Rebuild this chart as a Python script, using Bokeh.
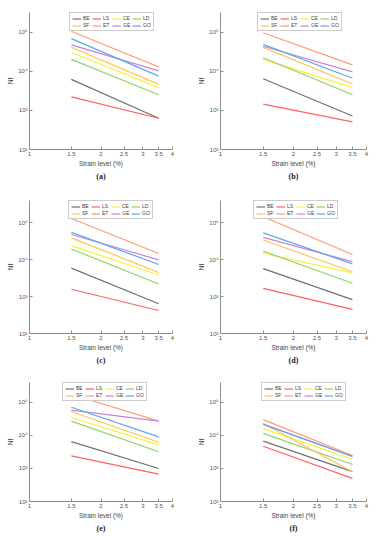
from bokeh.plotting import figure
from bokeh.models import Legend, LegendItem, FixedTicker, CustomJSTickFormatter, Title, Range1d
from bokeh.layouts import column, row
from bokeh.embed import file_html
from bokeh.resources import INLINE

# ---------------- data ----------------
series = ["BE", "LS", "CE", "LD", "SF", "ET", "GE", "GO"]
strain = [1.5, 3.5]
x_ticks = [1, 1.5, 2, 2.5, 3, 3.5, 4]
y_ticks = [100, 1000, 10000, 100000]

# Nf at 1.5 % and 3.5 % strain, series order as above
nf_a_15 = [6200, 2200, 30000, 20000, 41000, 105000, 47000, 68000]
nf_a_35 = [630, 630, 3800, 2500, 4600, 12800, 10200, 7500]

nf_b_15 = [6400, 1440, 20000, 22000, 40500, 96000, 43500, 48500]
nf_b_35 = [720, 510, 3800, 2500, 4700, 14500, 9600, 6600]

nf_c_15 = [5900, 1580, 24000, 19400, 39000, 130000, 48000, 55000]
nf_c_35 = [640, 420, 3850, 2200, 4500, 14700, 9900, 7400]

nf_d_15 = [5700, 1670, 14700, 17000, 34000, 145000, 40000, 53000]
nf_d_35 = [830, 450, 4400, 2300, 4700, 13800, 8800, 7700]

nf_e_15 = [6500, 2400, 35000, 27000, 53000, 176000, 58000, 71000]
nf_e_35 = [1000, 670, 5200, 3200, 6200, 27000, 27000, 9000]

nf_f_15 = [6700, 4700, 16000, 11500, 23000, 30000, 22000, 21500]
nf_f_35 = [800, 500, 1900, 1320, 800, 2460, 2350, 2300]

captions = ["(a)", "(b)", "(c)", "(d)", "(e)", "(f)"]

# ---------------- style ----------------
colors = ["#707070", "#ff6161", "#f7f23a", "#8fd468", "#ffc452", "#ff9a6e", "#c684d8", "#5aaae8"]
AX = "#8f8f8f"
FONT = "Liberation Sans"
LEG_H = 18

Y_SUP = "const s={2:'\u00b2',3:'\u00b3',4:'\u2074',5:'\u2075',6:'\u2076'};" \
        "const e=Math.round(Math.log10(tick));return '10'+s[e];"


def panel(caption, start, end, w, h, bl, br, bt, bb, y_top, leg_x):
    p = figure(width=w, height=h, x_axis_type="log", y_axis_type="log",
               x_range=Range1d(1, 4), y_range=Range1d(100, y_top),
               output_backend="svg", toolbar_location=None, title=None,
               min_border_left=bl, min_border_right=br,
               min_border_top=bt, min_border_bottom=bb)
    p.grid.visible = False
    p.outline_line_color = None
    items = []
    for name, c, s, e in zip(series, colors, start, end):
        r = p.line(x=strain, y=[s, e], line_color=c, line_width=1.2)
        items.append(LegendItem(label=name, renderers=[r]))

    for ax in (p.xaxis[0], p.yaxis[0]):
        ax.axis_line_color = AX
        ax.major_tick_line_color = AX
        ax.major_tick_in = 3
        ax.major_tick_out = 0
        ax.minor_tick_line_color = None
        ax.major_label_text_font = FONT
        ax.major_label_text_font_size = "6px"
        ax.major_label_text_color = "#555555"
        ax.major_label_standoff = 2
        ax.axis_label_text_font = FONT
        ax.axis_label_text_font_size = "6.5px"
        ax.axis_label_text_font_style = "normal"
        ax.axis_label_text_color = "#444444"
        ax.axis_label_standoff = 1

    xa = p.xaxis[0]
    xa.ticker = FixedTicker(ticks=x_ticks)
    xa.formatter = CustomJSTickFormatter(code="return String(tick);")
    xa.axis_label = "Strain level (%)"

    ya = p.yaxis[0]
    ya.ticker = FixedTicker(ticks=y_ticks)
    ya.formatter = CustomJSTickFormatter(code=Y_SUP)
    ya.axis_label = "Nf"

    p.add_layout(Title(text=caption, align="center", text_font="Liberation Serif",
                       text_font_size="8px", text_font_style="bold",
                       text_color="#222222", standoff=0, offset=0), "below")

    frame_h = h - bt - bb
    leg = Legend(items=items, location=(leg_x, frame_h - LEG_H - 1),
                 orientation="horizontal", ncols=4,
                 label_text_font=FONT, label_text_font_size="5px",
                 label_text_color="#444444",
                 glyph_width=9, glyph_height=5, label_height=5, label_width=8,
                 label_standoff=2, spacing=1, padding=2, margin=0,
                 border_line_color="#9a9a9a", border_line_width=1,
                 background_fill_color="white", background_fill_alpha=1)
    p.add_layout(leg, "center")
    return p


pa = panel(captions[0], nf_a_15, nf_a_35, 194, 182, 29, 22, 12, 33, 3.16e5, 40)
pb = panel(captions[1], nf_b_15, nf_b_35, 177, 182, 26, 5, 12, 33, 3.16e5, 37)
pc = panel(captions[2], nf_c_15, nf_c_35, 194, 184, 29, 22, 18, 33, 4.0e5, 39)
pd = panel(captions[3], nf_d_15, nf_d_35, 177, 184, 26, 5, 18, 33, 4.0e5, 33)
pe = panel(captions[4], nf_e_15, nf_e_35, 194, 168, 29, 22, 16, 33, 4.0e5, 33)
pf = panel(captions[5], nf_f_15, nf_f_35, 177, 168, 26, 5, 16, 33, 4.0e5, 41)

layout = column(row(pa, pb), row(pc, pd), row(pe, pf))

open("out.html", "w").write(file_html(layout, INLINE))
